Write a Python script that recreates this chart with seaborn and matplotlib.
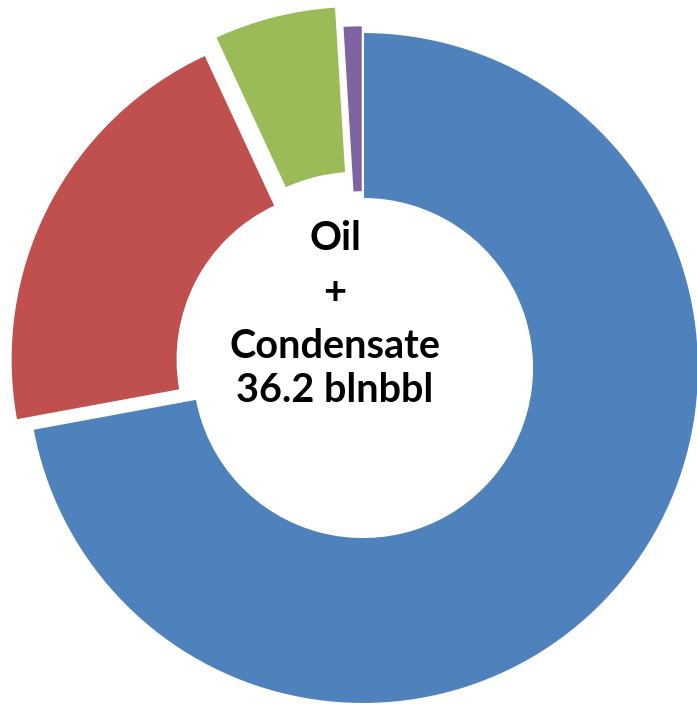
import matplotlib
matplotlib.use("Agg")
import matplotlib.pyplot as plt
import seaborn as sns

# Data
categories = ["Oil (blue)", "Red segment", "Green segment", "Purple segment"]
values = [26.1, 7.6, 2.15, 0.35]
colors = ["#4F81BD", "#C0504D", "#9BBB59", "#8064A2"]
explode = [0.0, 0.055, 0.08, 0.02]
center_lines = ["Oil", "+", "Condensate", "36.2 blnbbl"]

sns.set_theme(style="white")
plt.rcParams["font.family"] = ["Lato", "DejaVu Sans"]

fig = plt.figure(figsize=(6.97, 7.07), dpi=100)
ax = fig.add_axes([0, 0, 1, 1])

ax.pie(values, colors=colors, startangle=90, counterclock=False,
       explode=explode, radius=1.0,
       wedgeprops=dict(width=0.497, edgecolor="white", linewidth=1.5))

ax.set_aspect("auto")
ax.set_xlim(-363 / 336, (697 - 363) / 336)
ax.set_ylim(-(707 - 368) / 336, 368 / 336)
ax.axis("off")

tx = -0.083
ax.text(tx, 0.351, center_lines[0], ha="center", va="baseline",
        fontsize=28.5, fontweight="bold", color="black")
ax.text(tx, 0.226, center_lines[1], ha="center", va="center",
        fontsize=28.5, fontweight="bold", color="black")
ax.text(tx, 0.030, center_lines[2], ha="center", va="baseline",
        fontsize=28.5, fontweight="bold", color="black")
ax.text(tx, -0.101, center_lines[3], ha="center", va="baseline",
        fontsize=28.5, fontweight="bold", color="black")

fig.savefig("out.png", dpi=100, facecolor="white")
